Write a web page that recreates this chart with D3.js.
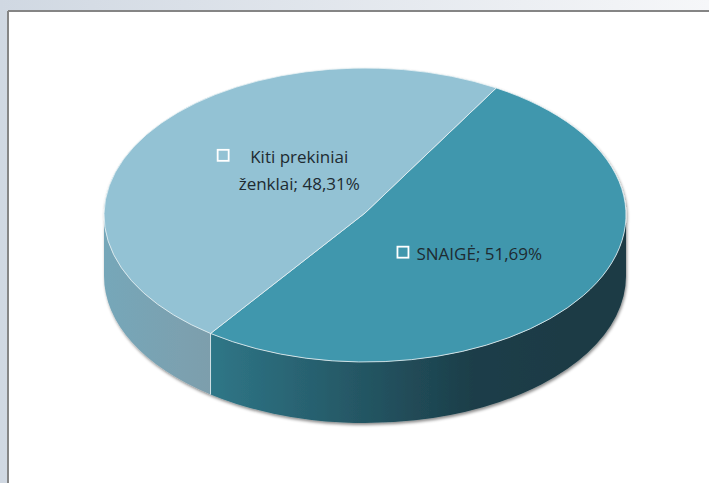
<!DOCTYPE html>
<html>
<head>
<meta charset="utf-8">
<script src="https://cdn.jsdelivr.net/npm/d3@7"></script>
<style>
  body { margin: 0; padding: 0; }
  svg { display: block; }
</style>
</head>
<body>
<script>
// data
var categories = ["SNAIGĖ", "Kiti prekiniai ženklai"];
var values = [51.69, 48.31];
var labelLines = [["SNAIGĖ; 51,69%"], ["Kiti prekiniai", "ženklai; 48,31%"]];

var W = 709, H = 483;
// ellipse of the top face, apex of the slices a bit above its centre (perspective)
var cx = 365, cy = 215, rx = 261, ry = 147, depth = 61;
var apexY = 213;
var rot = 30.2 * Math.PI / 180;

var topColors = ["#4197ad", "#93c2d4"];

var svg = d3.select("body").append("svg")
    .attr("width", W)
    .attr("height", H);

var defs = svg.append("defs");

// window background + frame
var bg = defs.append("linearGradient").attr("id", "bg").attr("x1", 0).attr("x2", 1).attr("y1", 0).attr("y2", 0);
bg.append("stop").attr("offset", 0).attr("stop-color", "#d0d8e2");
bg.append("stop").attr("offset", 1).attr("stop-color", "#f6f7f9");

// side gradients
var g0 = defs.append("linearGradient").attr("id", "side0")
    .attr("gradientUnits", "userSpaceOnUse")
    .attr("x1", 212).attr("x2", 560).attr("y1", 0).attr("y2", 0);
g0.append("stop").attr("offset", 0).attr("stop-color", "#2f7687");
g0.append("stop").attr("offset", 0.75).attr("stop-color", "#1c3e49");
g0.append("stop").attr("offset", 1).attr("stop-color", "#1a3a45");

var g1 = defs.append("linearGradient").attr("id", "side1")
    .attr("gradientUnits", "userSpaceOnUse")
    .attr("x1", 104).attr("x2", 212).attr("y1", 0).attr("y2", 0);
g1.append("stop").attr("offset", 0).attr("stop-color", "#76a7b9");
g1.append("stop").attr("offset", 1).attr("stop-color", "#7d9eac");

var shadow = defs.append("filter").attr("id", "shadow")
    .attr("x", "-10%").attr("y", "-10%").attr("width", "120%").attr("height", "130%");
shadow.append("feDropShadow")
    .attr("dx", 1).attr("dy", 2).attr("stdDeviation", 1.8)
    .attr("flood-color", "#000").attr("flood-opacity", 0.45);

svg.append("rect").attr("width", W).attr("height", H).attr("fill", "url(#bg)");
svg.append("rect").attr("x", 8).attr("y", 11).attr("width", W).attr("height", H).attr("fill", "#fff");
svg.append("line").attr("x1", 8).attr("x2", W).attr("y1", 11).attr("y2", 11)
    .attr("stroke", "#858585").attr("stroke-width", 2);
svg.append("line").attr("x1", 8).attr("x2", 8).attr("y1", 11).attr("y2", H)
    .attr("stroke", "#858585").attr("stroke-width", 2);

// pie layout
var pie = d3.pie().sort(null).value(function(d) { return d; })
    .startAngle(rot).endAngle(rot + 2 * Math.PI);
var arcs = pie(values);

function pt(a, dy) {
  return [cx + rx * Math.sin(a), cy - ry * Math.cos(a) + (dy || 0)];
}

function topPath(d) {
  var p0 = pt(d.startAngle), p1 = pt(d.endAngle);
  var large = (d.endAngle - d.startAngle) > Math.PI ? 1 : 0;
  return "M" + cx + "," + apexY + "L" + p0 + "A" + rx + "," + ry + " 0 " + large + " 1 " + p1 + "Z";
}

// front wall is visible for angles between 90 and 270 degrees
function sidePath(d) {
  var out = "";
  [0, 2 * Math.PI].forEach(function(off) {
    var s = Math.max(d.startAngle, Math.PI / 2 + off);
    var e = Math.min(d.endAngle, 3 * Math.PI / 2 + off);
    if (s < e) {
      out += "M" + pt(s) + "A" + rx + "," + ry + " 0 0 1 " + pt(e) +
        "L" + pt(e, depth) + "A" + rx + "," + ry + " 0 0 0 " + pt(s, depth) + "Z";
    }
  });
  return out;
}

var pieG = svg.append("g").attr("filter", "url(#shadow)");

pieG.selectAll(".side")
    .data(arcs)
  .enter().append("path")
    .attr("class", "side")
    .attr("d", sidePath)
    .attr("fill", function(d, i) { return "url(#side" + i + ")"; });

pieG.selectAll(".top")
    .data(arcs)
  .enter().append("path")
    .attr("class", "top")
    .attr("d", topPath)
    .attr("fill", function(d, i) { return topColors[i]; })
    .attr("stroke", "#e8f2f5")
    .attr("stroke-opacity", 0.8)
    .attr("stroke-width", 1)
    .attr("stroke-linejoin", "round");

// wall dividers
arcs.forEach(function(d) {
  var a = d.startAngle % (2 * Math.PI);
  if (a > Math.PI / 2 && a < 3 * Math.PI / 2) {
    var p = pt(a);
    svg.append("line")
        .attr("x1", p[0]).attr("y1", p[1]).attr("x2", p[0]).attr("y2", p[1] + depth)
        .attr("stroke", "#e8f2f5").attr("stroke-opacity", 0.8).attr("stroke-width", 1);
  }
});

// labels
var font = "'Open Sans', sans-serif", fs = 17, lh = 27;
var labelR = 0.48;
var labelShift = [[0, 0], [29.5, -6]];

arcs.forEach(function(d, i) {
  var mid = (d.startAngle + d.endAngle) / 2;
  var lx = cx + rx * labelR * Math.sin(mid) + labelShift[i][0];
  var ly = cy - ry * labelR * Math.cos(mid) + labelShift[i][1];
  var lines = labelLines[i];
  var g = svg.append("g");
  var txt = g.append("text")
      .attr("font-family", font)
      .attr("font-size", fs)
      .attr("fill", "#1e2b31")
      .attr("text-anchor", "middle");
  lines.forEach(function(l, j) {
    txt.append("tspan").attr("x", 0).attr("y", j * lh).text(l);
  });
  var bb = txt.node().getBBox();
  var sq = 11, gap = 8;
  var total = sq + gap + bb.width;
  var firstW = txt.select("tspan").node().getComputedTextLength();
  var textCx = lx - total / 2 + sq + gap + bb.width / 2;
  var top0 = ly - (lines.length - 1) * lh / 2;
  var base = top0 + 6;
  txt.selectAll("tspan").attr("x", textCx);
  txt.attr("transform", "translate(0," + base + ")");
  var sqX = lines.length > 1 ? textCx - bb.width / 2 - 21 : textCx - firstW / 2 - gap - sq;
  g.append("rect")
      .attr("x", sqX).attr("y", base - 13)
      .attr("width", sq).attr("height", sq)
      .attr("fill", "none")
      .attr("stroke", "#fff")
      .attr("stroke-width", 1.8);
});
</script>
</body>
</html>
